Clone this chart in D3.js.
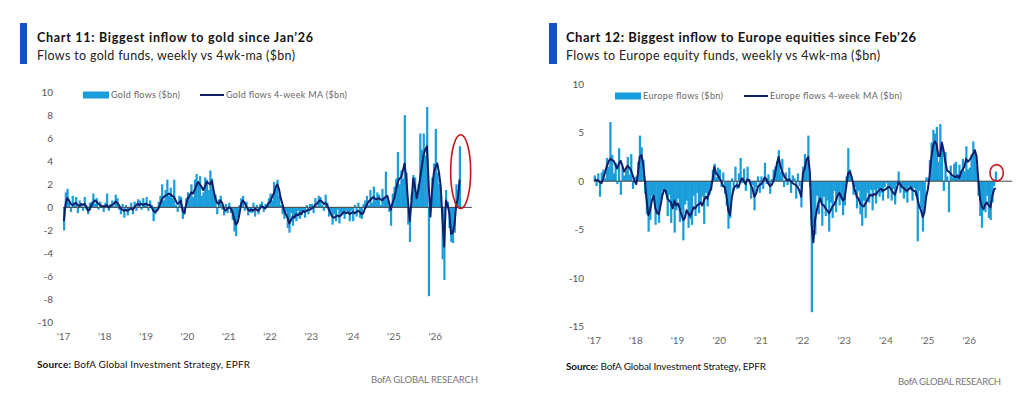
<!DOCTYPE html>
<html>
<head>
<meta charset="utf-8">
<script src="https://cdn.jsdelivr.net/npm/d3@7"></script>
<style>
body{margin:0;background:#fff;}
svg{display:block;font-family:Lato,'Open Sans',sans-serif;}
</style>
</head>
<body>
<div id="chart"></div>
<script>
//Tick labels
const yearTicks = [2017, 2018, 2019, 2020, 2021, 2022, 2023, 2024, 2025, 2026]
const yearLabels = ["'17", "'18", "'19", "'20", "'21", "'22", "'23", "'24", "'25", "'26"]
const goldTicks = [-10, -8, -6, -4, -2, 0, 2, 4, 6, 8, 10]
const europeTicks = [-15, -10, -5, 0, 5, 10]

//Semi-monthly points from Jan 2017 ($bn)
const firstYear = 2017
const pointsPerYear = 24

const goldFlows = [
	-2.0, 1.3, 1.6, 0.5, -0.4, 1.0, 0.2, 0.9, -0.5, 0.6, 0.2, -0.3, 0.9, -0.2, -0.6, 0.4, 0.5, 1.2, 0.3, 0.8, -0.2, 0.5, 0.1, -0.4,
	0.4, 1.2, -0.3, 0.3, 0.6, 0.1, 1.1, 0.8, -0.2, -0.6, 0.3, -0.9, 0.2, -0.7, -0.2, 0.4, -0.6, 0.5, -0.3, 0.7, 0.6, -0.2, 0.8, 0.4,
	0.9, -0.3, 0.6, 0.2, -1.2, -0.6, -0.2, 0.5, 1.0, 2.0, 0.6, 1.5, 2.4, 1.0, 1.7, 0.8, 2.4, 0.2, -0.4, 1.0, 0.9, -1.0, -0.6, 0.8,
	1.3, 0.9, 2.0, 0.9, 2.4, 2.9, 2.1, 2.7, 1.0, 1.3, 2.6, 2.4, 1.5, 3.2, 2.5, 1.2, 1.1, -0.6, 0.7, 1.0, -0.2, -0.7, 0.3, -0.5,
	0.4, -0.5, -1.1, -2.1, -2.5, -0.9, 0.2, 0.8, 1.0, -0.3, 0.5, -0.7, -0.2, -0.5, 0.4, -0.8, 0.2, -0.6, 0.3, 0.5, -0.4, 0.3, 0.2, 0.8,
	1.2, 0.6, 2.2, 1.6, 2.4, 1.0, 0.2, -0.6, -1.0, -0.4, -1.8, -2.2, -0.5, -1.6, -0.8, -1.2, -0.3, -1.0, -0.4, -0.2, -0.9, 0.2, -0.6, 0.3,
	0.3, -0.5, 0.8, 0.1, 1.0, 0.9, 0.2, -0.3, 1.1, 0.4, -0.8, -0.4, -1.5, -0.6, -1.2, -0.2, -1.4, -0.5, -0.6, -1.0, -0.3, -0.3, -1.2, -0.3,
	-1.2, 0.2, -0.8, 0.4, -0.9, -1.0, 0.3, 0.6, 1.0, 0.2, 1.5, 0.4, 1.8, 0.6, 1.3, 1.1, 0.2, 1.6, 0.9, 3.1, 0.6, -0.4, -1.6, 1.2,
	1.8, 2.5, 4.8, 2.0, 3.2, 2.5, 8.0, 3.0, -1.5, -3.0, 1.2, 2.8, 2.6, 0.9, 2.0, 6.4, 5.0, 6.4, 4.5, 8.7, -7.7, 0.8, 2.6, 3.8,
	6.8, 3.0, 2.0, 1.0, -4.5, -6.3, 1.5, 0.5, -1.8, -3.0, -3.1, -2.2, 2.0, 1.5, 5.3
]

const goldMA = [
	-1.2, 0.3, 0.8, 0.6, 0.3, 0.2, 0.3, 0.4, 0.2, 0.1, 0.3, 0.2, 0.3, 0.1, -0.3, -0.2, 0.2, 0.4, 0.6, 0.5, 0.3, 0.2, 0.1, 0.1,
	0.1, 0.2, 0.0, 0.1, 0.2, 0.3, 0.5, 0.4, 0.2, -0.1, -0.2, -0.3, -0.2, -0.3, -0.2, -0.1, -0.2, 0.0, 0.2, 0.3, 0.2, 0.3, 0.2, 0.3,
	0.3, 0.2, 0.2, 0.0, -0.3, -0.4, -0.3, -0.1, 0.3, 0.7, 0.9, 1.0, 1.1, 1.2, 1.1, 1.0, 0.9, 0.6, 0.3, 0.4, 0.6, -0.3, -0.5, 0.2,
	0.8, 1.0, 1.3, 1.2, 1.5, 1.9, 2.2, 2.0, 1.8, 1.5, 1.8, 2.2, 2.1, 2.0, 2.3, 1.5, 0.8, 0.4, 0.3, 0.6, 0.4, -0.1, -0.3, -0.1,
	0.0, -0.1, -0.4, -1.0, -1.5, -1.3, -0.6, 0.3, 0.6, 0.4, 0.1, -0.2, -0.3, -0.2, -0.3, -0.1, -0.2, -0.3, -0.1, 0.1, 0.0, -0.1, 0.1, 0.4,
	0.5, 0.9, 1.2, 1.7, 2.0, 1.6, 0.8, 0.3, -0.3, -0.6, -0.9, -1.4, -1.1, -0.8, -0.9, -0.6, -0.7, -0.5, -0.6, -0.3, -0.4, -0.3, -0.2, -0.2,
	-0.1, 0.0, 0.2, 0.3, 0.5, 0.6, 0.5, 0.3, 0.4, 0.2, -0.2, -0.5, -0.8, -0.9, -0.8, -0.7, -0.8, -0.7, -0.5, -0.4, -0.5, -0.4, -0.6, -0.5,
	-0.4, -0.5, -0.4, -0.3, -0.4, -0.6, -0.5, -0.1, 0.2, 0.5, 0.6, 0.8, 0.9, 0.7, 0.7, 0.8, 0.7, 0.6, 0.8, 0.9, 1.0, 0.4, -0.2, 0.4,
	0.8, 1.5, 2.2, 2.5, 2.6, 3.2, 3.8, 2.5, 0.5, -1.2, 0.5, 2.5, 1.8, 0.8, 1.5, 2.5, 3.5, 4.5, 5.0, 5.3, 2.0, -0.8, 1.5, 3.0,
	3.5, 3.8, 3.0, 1.8, -1.0, -3.4, 0.6, 0.2, -0.5, -2.3, -2.2, -1.5, 0.2, 0.8, 2.4
]

const europeFlows = [
	0.6, -0.5, 0.8, -1.6, 0.9, 1.2, 0.3, 2.4, 1.5, 6.1, 2.7, 0.8, 1.9, -0.3, 3.4, -1.4, 1.5, 0.6, 1.2, 2.5, 0.7, 2.8, -0.8, 0.4,
	0.5, 2.0, 4.7, 3.5, 2.2, -1.3, -3.4, -5.2, -4.0, -1.5, -1.8, -4.5, -3.2, -4.3, -2.0, -1.0, -0.8, -1.3, -3.6, -1.4, -4.3, -2.8, -5.3, -3.0,
	-1.8, -4.2, -3.0, -6.1, -2.4, -2.0, -4.8, -3.9, -4.5, -1.5, -3.6, -1.2, -3.3, -2.4, -1.6, -4.4, -1.2, -2.6, -1.4, -1.0, 1.2, 1.8, 0.4, 1.4,
	1.2, -0.6, 0.9, -1.3, -2.5, -4.9, -3.8, 0.3, -1.0, 1.5, -0.8, 0.8, 2.4, -0.2, 1.3, -1.0, 1.5, 0.2, -1.8, -0.4, -3.0, -0.6, 0.5, -1.2,
	0.5, -0.8, 1.9, -0.3, 0.7, -1.3, 0.2, 1.2, 1.5, 2.0, 3.2, 1.0, 2.3, -0.6, 0.9, -0.4, 1.4, -1.2, 0.6, 0.3, -1.8, 0.8, -0.5, -2.7,
	1.5, 2.8, 2.0, 4.7, -0.5, -13.5, -4.8, -5.5, -1.5, -3.4, -1.9, -4.6, -1.6, -3.6, -2.0, -5.2, -2.2, -3.8, -1.0, -3.2, -1.4, -2.5, -1.8, -3.5,
	-2.5, 0.5, 3.4, 1.2, 0.2, -1.4, -0.6, -2.8, -1.0, -3.4, -4.6, -2.0, -3.8, -1.2, -2.2, -0.9, -3.0, -0.9, -2.3, -0.8, -1.6, -1.2, -2.0, -0.6,
	-0.2, -1.8, -0.5, -2.0, -0.8, -2.4, -0.3, 1.0, -1.2, -0.6, -1.8, -1.2, -2.2, -0.5, -0.9, -2.0, -0.7, -1.5, -6.2, -1.0, -2.8, -5.2, -2.4, 0.4,
	0.3, 2.2, 4.0, 5.3, 4.9, 5.6, 2.0, 5.9, 3.8, -1.0, 3.0, 0.5, -3.2, 1.6, 0.4, 1.8, 2.0, 0.6, 1.7, 1.1, 2.3, 1.0, 3.6, 1.2,
	1.4, 2.8, 4.1, 3.0, 1.5, -1.5, -3.6, -4.8, -2.6, -3.2, -1.5, -3.8, -4.0, -2.2, -0.5, 1.0
]

const europeMA = [
	0.2, 0.1, 0.1, -0.1, -0.2, 0.3, 0.9, 1.5, 2.0, 2.3, 2.2, 2.1, 1.7, 1.3, 1.8, 2.1, 1.6, 1.0, 1.3, 1.6, 1.4, 1.1, 0.6, 0.0,
	-0.3, 0.8, 2.5, 2.7, 1.8, 0.0, -2.0, -3.5, -3.0, -2.0, -1.5, -2.8, -3.3, -3.4, -2.5, -1.5, -0.9, -1.0, -1.8, -2.0, -2.2, -2.8, -2.0, -2.5,
	-2.3, -2.8, -3.4, -4.0, -3.8, -3.0, -3.3, -3.6, -3.2, -2.7, -2.8, -2.5, -2.4, -2.2, -2.5, -2.0, -1.6, -1.8, -1.2, -0.8, 0.2, 1.5, 0.8, 0.6,
	0.3, 0.0, -0.5, -0.6, -1.5, -3.0, -3.5, -1.8, -0.8, -0.5, -0.4, -0.6, 0.0, 0.3, 0.0, -0.3, 0.2, 0.1, -0.4, -0.8, -1.6, -1.3, -0.6, -0.4,
	-0.3, 0.0, 0.4, 0.2, -0.2, -0.5, -0.4, 0.0, 0.8, 1.8, 2.5, 1.6, 1.0, 0.6, 0.3, 0.1, 0.2, 0.0, -0.2, -0.3, -0.4, -0.6, -1.0, -1.6,
	0.8, 1.3, 2.2, 2.5, 1.0, -4.5, -6.3, -4.0, -3.0, -2.2, -1.8, -2.4, -2.5, -2.8, -3.0, -3.3, -3.0, -2.6, -2.4, -2.0, -1.5, -1.2, -1.6, -2.0,
	-1.8, -0.5, 0.8, 1.0, 0.5, -0.3, -1.0, -1.6, -1.8, -2.3, -2.5, -2.6, -2.3, -2.0, -1.6, -1.4, -1.5, -1.3, -1.4, -1.1, -0.9, -0.8, -1.0, -0.9,
	-0.8, -0.6, -0.6, -0.9, -1.2, -1.4, -0.8, -0.1, -0.3, -0.6, -0.7, -0.9, -1.0, -0.8, -0.6, -0.9, -1.0, -1.1, -1.8, -2.6, -3.0, -3.7, -3.2, -1.6,
	-0.8, 0.6, 2.5, 3.7, 4.1, 3.8, 2.6, 2.6, 4.0, 3.2, 2.0, 1.1, 1.0, 0.8, 0.6, 0.5, 0.4, 0.6, 0.3, 0.9, 1.2, 1.5, 2.3, 2.0,
	2.2, 2.5, 2.8, 3.2, 2.6, 0.2, -1.8, -2.6, -2.9, -2.4, -2.2, -2.5, -2.7, -1.6, -0.9, -0.7
]

//Colours
const barColor = '#1a9ddb'
const maColor = '#0c1f6b'
const accent = '#1552c6'
const circleColor = '#c4161c'

const svg = d3.select('#chart')
			.append('svg')
			.attr('width', 1024)
			.attr('height', 401)

const panels = [
	{
		flows: goldFlows, ma: goldMA, yTicks: goldTicks,
		title: 'Chart 11: Biggest inflow to gold since Jan\u201926', titleSize: 12.5, titleLen: 276,
		subtitle: 'Flows to gold funds, weekly vs 4wk-ma ($bn)', subLen: 258,
		barLabel: 'Gold flows ($bn)', barLabelLen: 69,
		lineLabel: 'Gold flows 4-week MA ($bn)', lineLabelLen: 121,
		accentX: 20, accentW: 7, textX: 37,
		legendY: 95, legendBarX: 83, legendLineX: 200,
		xRange: [63, 476], zeroEnd: 2026.9, xLabelY: 340,
		yDomain: [-10, 10], yRange: [322.7, 92], yLabelX: 53,
		circle: {value: 3.1, half: 3.2, rx: 10},
		sourceY: 368, sourceLen: 213, bofaX: 478, bofaY: 383, bofaLen: 107
	},
	{
		flows: europeFlows, ma: europeMA, yTicks: europeTicks,
		title: 'Chart 12: Biggest inflow to Europe equities since Feb\u201926', titleSize: 13, titleLen: 350,
		subtitle: 'Flows to Europe equity funds, weekly vs 4wk-ma ($bn)', subLen: 314,
		barLabel: 'Europe flows ($bn)', barLabelLen: 80,
		lineLabel: 'Europe flows 4-week MA ($bn)', lineLabelLen: 132,
		accentX: 549, accentW: 8, textX: 566,
		legendY: 96, legendBarX: 615, legendLineX: 744,
		xRange: [593.7, 1010.4], zeroEnd: 2027.04, xLabelY: 344,
		yDomain: [-15, 10], yRange: [326.7, 84.2], yLabelX: 584,
		circle: {value: 0.86, half: 0.85, rx: 6.7},
		sourceY: 370, sourceLen: 200, bofaX: 1001, bofaY: 385, bofaLen: 103
	}
]

const dateOf = i => firstYear + i / pointsPerYear

function drawPanel(p){
	const g = svg.append('g')

	//Title block
	g.append('rect')
		.attr('x', p.accentX)
		.attr('y', 23)
		.attr('width', p.accentW)
		.attr('height', 41)
		.attr('fill', accent)

	g.append('text')
		.attr('x', p.textX)
		.attr('y', 42)
		.attr('font-size', p.titleSize)
		.attr('font-weight', 700)
		.attr('fill', '#111')
		.attr('textLength', p.titleLen)
		.text(p.title)

	g.append('text')
		.attr('x', p.textX)
		.attr('y', 59.5)
		.attr('font-size', 12.5)
		.attr('fill', '#222')
		.attr('textLength', p.subLen)
		.text(p.subtitle)

	//Scales
	const xScale = d3.scaleLinear()
					.domain([2017, 2027])
					.range(p.xRange)

	const yScale = d3.scaleLinear()
					.domain(p.yDomain)
					.range(p.yRange)

	const step = xScale(dateOf(1)) - xScale(dateOf(0))

	//Axes
	const yAxis = d3.axisLeft(yScale)
					.tickValues(p.yTicks)
					.tickSize(0)
					.tickPadding(0)
					.tickFormat(d => String(d))

	const yG = g.append('g')
				.attr('transform', 'translate(' + p.yLabelX + ',0)')
				.call(yAxis)
	yG.select('.domain').remove()
	yG.attr('font-family', null).attr('font-size', null)
	yG.selectAll('text').attr('font-size', 10).attr('fill', '#555')

	const xAxis = d3.axisBottom(xScale)
					.tickValues(yearTicks)
					.tickSize(0)
					.tickPadding(0)
					.tickFormat((d, i) => yearLabels[i])

	const xG = g.append('g')
				.attr('transform', 'translate(0,' + p.xLabelY + ')')
				.call(xAxis)
	xG.select('.domain').remove()
	xG.attr('font-family', null).attr('font-size', null)
	xG.selectAll('text').attr('y', 0).attr('dy', 0).attr('font-size', 10).attr('fill', '#666')

	//Weekly flow bars
	g.append('g')
		.selectAll('rect')
		.data(p.flows)
		.enter()
		.append('rect')
		.attr('x', (d, i) => xScale(dateOf(i)))
		.attr('width', step + 0.5)
		.attr('y', d => yScale(Math.max(d, 0)))
		.attr('height', d => Math.abs(yScale(d) - yScale(0)))
		.attr('fill', barColor)

	//Zero line
	g.append('line')
		.attr('x1', xScale(firstYear))
		.attr('x2', xScale(p.zeroEnd))
		.attr('y1', yScale(0))
		.attr('y2', yScale(0))
		.attr('stroke', '#444')
		.attr('stroke-width', 1)

	//4-week MA
	const line = d3.line()
					.x((d, i) => xScale(dateOf(i)) + step / 2)
					.y(d => yScale(d))

	g.append('path')
		.datum(p.ma)
		.attr('d', line)
		.attr('fill', 'none')
		.attr('stroke', maColor)
		.attr('stroke-width', 2)
		.attr('stroke-linejoin', 'round')

	//Red highlight round the latest week
	const lastX = xScale(dateOf(p.flows.length - 1)) + step / 2
	g.append('ellipse')
		.attr('cx', lastX + 1)
		.attr('cy', yScale(p.circle.value))
		.attr('rx', p.circle.rx)
		.attr('ry', yScale(p.circle.value - p.circle.half) - yScale(p.circle.value))
		.attr('fill', 'none')
		.attr('stroke', circleColor)
		.attr('stroke-width', 1.6)

	//Legend
	g.append('rect')
		.attr('x', p.legendBarX)
		.attr('y', p.legendY - 3.5)
		.attr('width', 26)
		.attr('height', 7)
		.attr('fill', barColor)

	g.append('text')
		.attr('x', p.legendBarX + 28)
		.attr('y', p.legendY + 3)
		.attr('font-size', 9)
		.attr('fill', '#666')
		.attr('textLength', p.barLabelLen)
		.text(p.barLabel)

	g.append('line')
		.attr('x1', p.legendLineX)
		.attr('x2', p.legendLineX + 24)
		.attr('y1', p.legendY)
		.attr('y2', p.legendY)
		.attr('stroke', maColor)
		.attr('stroke-width', 2)

	g.append('text')
		.attr('x', p.legendLineX + 26)
		.attr('y', p.legendY + 3)
		.attr('font-size', 9)
		.attr('fill', '#666')
		.attr('textLength', p.lineLabelLen)
		.text(p.lineLabel)

	//Footer
	const src = g.append('text')
				.attr('x', p.textX)
				.attr('y', p.sourceY)
				.attr('font-size', 10)
				.attr('fill', '#111')
				.attr('textLength', p.sourceLen)
	src.append('tspan').attr('font-weight', 700).text('Source:')
	src.append('tspan').text(' BofA Global Investment Strategy, EPFR')

	g.append('text')
		.attr('x', p.bofaX)
		.attr('y', p.bofaY)
		.attr('text-anchor', 'end')
		.attr('font-size', 9.5)
		.attr('fill', '#777')
		.attr('textLength', p.bofaLen)
		.text('BofA GLOBAL RESEARCH')
}

panels.forEach(p => drawPanel(p))
</script>
</body>
</html>
